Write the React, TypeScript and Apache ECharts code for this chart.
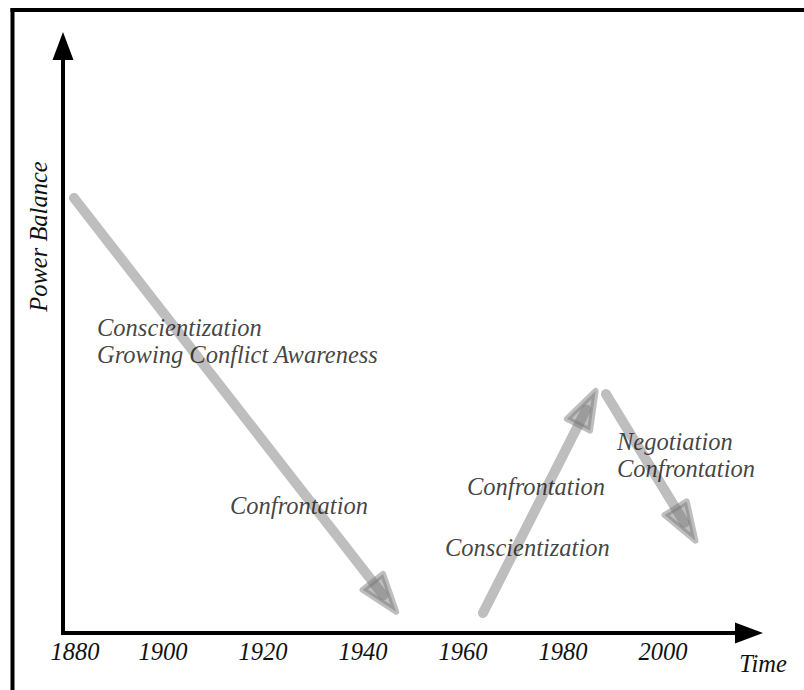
import React, { useEffect, useRef } from 'react';
import * as echarts from 'echarts';

// ---- data ----
const tickYears = [1880, 1900, 1920, 1940, 1960, 1980, 2000];
const xAxisName = 'Time';
const yAxisName = 'Power Balance';

// arrows: start (year, balance) -> tip (year, balance)
const arrowStartYear = [1882.2, 1964.0, 1988.6];
const arrowStartValue = [74.1, 3.4, 40.7];
const arrowEndYear = [1947.0, 1986.8, 2006.8];
const arrowEndValue = [3.2, 41.7, 15.3];

// annotation texts, anchored at their left edge
const labelTexts = [
  'Conscientization',
  'Growing Conflict Awareness',
  'Confrontation',
  'Confrontation',
  'Conscientization',
  'Negotiation',
  'Confrontation',
];
const labelYears = [1886.8, 1886.8, 1913.4, 1960.8, 1956.4, 1990.8, 1990.8];
const labelValues = [52.1, 47.4, 21.8, 24.9, 14.5, 32.7, 28.1];

const FONT = 'Liberation Serif';
const TEXT_COLOR = '#111111';
const ARROW_COLOR = 'rgba(120,120,120,0.48)';

export default function App() {
  const ref = useRef<HTMLDivElement>(null);

  useEffect(() => {
    if (!ref.current) return;
    const chart = echarts.init(ref.current, null, { renderer: 'svg' });

    const arrowData = arrowStartYear.map((y, i) => [
      y,
      arrowStartValue[i],
      arrowEndYear[i],
      arrowEndValue[i],
    ]);
    const labelData = labelTexts.map((t, i) => ({
      name: t,
      value: [labelYears[i], labelValues[i]],
    }));

    const baseText = {
      fontFamily: FONT,
      fontStyle: 'italic',
      fontSize: 24.5,
      color: TEXT_COLOR,
    };

    const option: any = {
      animation: false,
      backgroundColor: '#ffffff',
      grid: { left: 63, right: 55, top: 46, bottom: 57, outerBoundsMode: 'none' },
      xAxis: {
        type: 'value',
        min: 1880,
        max: 2017.2,
        interval: 20,
        name: xAxisName,
        nameLocation: 'end',
        nameGap: 14,
        nameTextStyle: {
          ...baseText,
          align: 'center',
          verticalAlign: 'top',
          padding: [18, 0, 0, 0],
        },
        axisLine: {
          show: true,
          onZero: false,
          symbol: ['none', 'triangle'],
          symbolSize: [21, 28],
          lineStyle: { color: '#000', width: 4, cap: 'square' },
        },
        axisTick: { show: false },
        splitLine: { show: false },
        axisLabel: {
          ...baseText,
          margin: 6,
          showMinLabel: true,
          showMaxLabel: false,
          formatter: (v: number) => {
            const r = Math.round(v);
            if (Math.abs(v - r) > 1e-6 || tickYears.indexOf(r) < 0) return '';
            return r === tickYears[0] ? `{first|${r}}` : `${r}`;
          },
          rich: {
            first: { ...baseText, padding: [0, 0, 0, 24] },
          },
        },
      },
      yAxis: {
        type: 'value',
        min: 0,
        max: 100,
        name: yAxisName,
        nameLocation: 'middle',
        nameRotate: 90,
        nameGap: 12,
        nameTextStyle: { ...baseText, padding: [0, 0, 0, 206] },
        axisLine: {
          show: true,
          onZero: false,
          symbol: ['none', 'triangle'],
          symbolSize: [21, 28],
          lineStyle: { color: '#000', width: 4, cap: 'square' },
        },
        axisTick: { show: false },
        axisLabel: { show: false },
        splitLine: { show: false },
      },
      graphic: [
        {
          type: 'line',
          shape: { x1: 12.5, y1: 8, x2: 12.5, y2: 700 },
          style: { stroke: '#000', lineWidth: 4 },
          silent: true,
        },
        {
          type: 'line',
          shape: { x1: 10.5, y1: 10, x2: 810, y2: 10 },
          style: { stroke: '#000', lineWidth: 4 },
          silent: true,
        },
      ],
      series: [
        {
          type: 'custom',
          coordinateSystem: 'cartesian2d',
          encode: { x: [0, 2], y: [1, 3] },
          clip: false,
          z: 2,
          data: arrowData,
          renderItem: (_p: any, api: any) => {
            const s = api.coord([api.value(0), api.value(1)]);
            const e = api.coord([api.value(2), api.value(3)]);
            const dx = e[0] - s[0];
            const dy = e[1] - s[1];
            const len = Math.hypot(dx, dy);
            const ux = dx / len;
            const uy = dy / len;
            const px = -uy;
            const py = ux;
            const headLen = 38;
            const headHalf = 13;
            const tip = [e[0] - ux * 3, e[1] - uy * 3];
            const bx = tip[0] - ux * headLen;
            const by = tip[1] - uy * headLen;
            const shaftEnd = [tip[0] - ux * headLen * 0.55, tip[1] - uy * headLen * 0.55];
            return {
              type: 'group',
              children: [
                {
                  type: 'line',
                  shape: { x1: s[0], y1: s[1], x2: shaftEnd[0], y2: shaftEnd[1] },
                  style: { stroke: ARROW_COLOR, lineWidth: 10, lineCap: 'round' },
                },
                {
                  type: 'polygon',
                  shape: {
                    points: [
                      [tip[0], tip[1]],
                      [bx + px * headHalf, by + py * headHalf],
                      [bx - px * headHalf, by - py * headHalf],
                    ],
                  },
                  style: { fill: ARROW_COLOR, stroke: ARROW_COLOR, lineWidth: 6, lineJoin: 'round' },
                },
              ],
            };
          },
        },
        {
          type: 'scatter',
          z: 5,
          symbolSize: 0,
          data: labelData,
          label: {
            show: true,
            position: 'right',
            distance: 0,
            formatter: '{b}',
            ...baseText,
          },
          emphasis: { disabled: true },
          silent: true,
        },
      ],
    };

    chart.setOption(option);
    return () => chart.dispose();
  }, []);

  return (
    <div
      ref={ref}
      style={{ position: 'absolute', left: 0, top: 0, width: 804, height: 690 }}
    />
  );
}
